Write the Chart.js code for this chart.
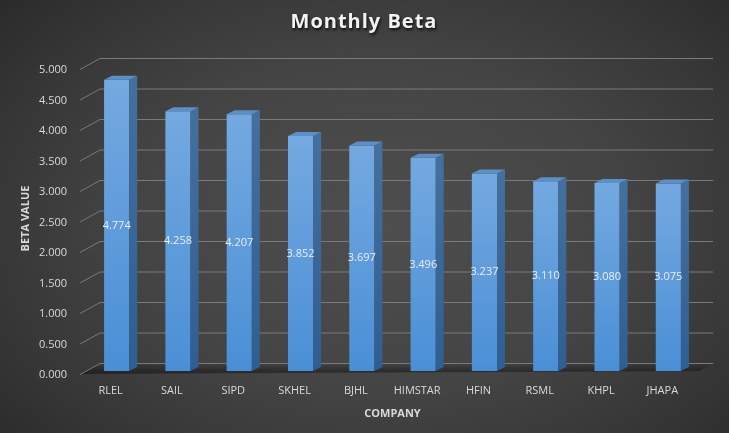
<!DOCTYPE html>
<html>
<head>
<meta charset="utf-8">
<script src="https://cdn.jsdelivr.net/npm/chart.js@4.4.1/dist/chart.umd.min.js"></script>
<style>
  html, body { margin: 0; padding: 0; }
  body { width: 729px; height: 433px; overflow: hidden; }
  .wrap {
    position: relative; width: 729px; height: 433px;
    background: radial-gradient(ellipse 75% 85% at 52% 52%, #4e4e4e 0%, #444 45%, #353535 75%, #262626 100%);
  }
</style>
</head>
<body>
<div class="wrap"><canvas id="betaChart" width="729" height="433"></canvas></div>
<script>
/* Monthly Beta - 3D style column chart */
const companies = ['RLEL', 'SAIL', 'SIPD', 'SKHEL', 'BJHL', 'HIMSTAR', 'HFIN', 'RSML', 'KHPL', 'JHAPA'];
const betaValues = [4.774, 4.258, 4.207, 3.852, 3.697, 3.496, 3.237, 3.110, 3.080, 3.075];
const yTicks = [0, 0.5, 1, 1.5, 2, 2.5, 3, 3.5, 4, 4.5, 5];

const TEXT = '#d9d9d9';
const GRID = '#7a7a7a';
const FONT = "'Open Sans', 'Liberation Sans', sans-serif";

// depth offsets (px) relative to the bar front plane
const FRONT = { dx: -6, dy: 3 };
const BACK = { dx: 14, dy: -8 };
const BAR_DEPTH = { dx: 8, dy: -4 };

const gridPlugin = {
  id: 'grid3d',
  beforeDatasetsDraw(chart) {
    const { ctx, chartArea: a, scales: { y } } = chart;
    ctx.save();
    // floor shadow
    const base = y.getPixelForValue(0);
    const fg = ctx.createLinearGradient(0, base + BACK.dy, 0, base);
    fg.addColorStop(0, 'rgba(0,0,0,0)');
    fg.addColorStop(1, 'rgba(0,0,0,0.35)');
    ctx.fillStyle = fg;
    ctx.beginPath();
    ctx.moveTo(a.left + BACK.dx, base + BACK.dy);
    ctx.lineTo(a.right + BACK.dx, base + BACK.dy);
    ctx.lineTo(a.right, base);
    ctx.lineTo(a.left + FRONT.dx, base + FRONT.dy);
    ctx.closePath();
    ctx.fill();

    ctx.strokeStyle = GRID;
    ctx.lineWidth = 1;
    yTicks.forEach(v => {
      const py = y.getPixelForValue(v);
      ctx.beginPath();
      ctx.moveTo(a.left + FRONT.dx, py + FRONT.dy + 0.5);
      ctx.lineTo(a.left + BACK.dx, py + BACK.dy + 0.5);
      ctx.lineTo(a.right + BACK.dx, py + BACK.dy + 0.5);
      ctx.stroke();
    });
    ctx.restore();
  },
  afterDatasetsDraw(chart) {
    const { ctx } = chart;
    const meta = chart.getDatasetMeta(0);
    ctx.save();
    meta.data.forEach((bar, i) => {
      const { x, y, base, width } = bar.getProps(['x', 'y', 'base', 'width'], true);
      const l = x - width / 2, r = x + width / 2;
      const { dx, dy } = BAR_DEPTH;
      // side face
      const sg = ctx.createLinearGradient(0, y, 0, base);
      sg.addColorStop(0, '#44709f');
      sg.addColorStop(1, '#2f5e92');
      ctx.fillStyle = sg;
      ctx.beginPath();
      ctx.moveTo(r, y);
      ctx.lineTo(r + dx, y + dy);
      ctx.lineTo(r + dx, base + dy);
      ctx.lineTo(r, base);
      ctx.closePath();
      ctx.fill();
      // top face
      ctx.fillStyle = '#5d8fc6';
      ctx.beginPath();
      ctx.moveTo(l, y);
      ctx.lineTo(l + dx, y + dy);
      ctx.lineTo(r + dx, y + dy);
      ctx.lineTo(r, y);
      ctx.closePath();
      ctx.fill();
      // value label
      ctx.fillStyle = '#ececec';
      ctx.font = '11px ' + FONT;
      ctx.textAlign = 'center';
      ctx.textBaseline = 'middle';
      ctx.fillText(betaValues[i].toFixed(3), x, (y + base) / 2);
    });
    ctx.restore();
  }
};

const titlePlugin = {
  id: 'shadowTitle',
  afterDraw(chart) {
    const { ctx } = chart;
    ctx.save();
    ctx.font = 'bold 20px ' + FONT;
    ctx.textAlign = 'center';
    ctx.textBaseline = 'middle';
    ctx.shadowColor = 'rgba(0,0,0,0.8)';
    ctx.shadowBlur = 3;
    ctx.shadowOffsetX = 1;
    ctx.shadowOffsetY = 2;
    ctx.fillStyle = '#f2f2f2';
    if ('letterSpacing' in ctx) ctx.letterSpacing = '1px';
    ctx.fillText('Monthly Beta', 364, 22);
    ctx.restore();
  }
};

new Chart(document.getElementById('betaChart'), {
  type: 'bar',
  data: {
    labels: companies,
    datasets: [{
      label: 'Beta',
      data: betaValues,
      backgroundColor: c => {
        const ya = c.chart.scales.y;
        if (!ya || c.type !== 'data') return '#5b9bd5';
        const top = ya.getPixelForValue(c.raw), bot = ya.getPixelForValue(0);
        if (!isFinite(top) || !isFinite(bot) || top === bot) return '#5b9bd5';
        const g = c.chart.ctx.createLinearGradient(0, top, 0, bot);
        g.addColorStop(0, '#74a9e0');
        g.addColorStop(1, '#4a8fd6');
        return g;
      },
      borderWidth: 0,
      categoryPercentage: 1,
      barPercentage: 0.41,
    }],
  },
  options: {
    responsive: false,
    animation: false,
    layout: { padding: { top: 66, right: 30, left: 0, bottom: 0 } },
    plugins: {
      legend: { display: false },
      tooltip: { enabled: false },
      title: { display: false },
    },
    scales: {
      x: {
        grid: { display: false, drawTicks: false },
        border: { display: false },
        ticks: { color: TEXT, font: { family: FONT, size: 11 }, padding: 13, labelOffset: -6, maxRotation: 0 },
        title: { display: true, text: 'COMPANY', color: TEXT, font: { family: FONT, size: 11, weight: 'bold' }, padding: { top: 4, bottom: 13 } },
        afterFit: s => { s.height = 62; },
      },
      y: {
        min: 0,
        max: 5,
        grid: { display: false, drawTicks: false },
        border: { display: false },
        ticks: {
          stepSize: 0.5,
          color: TEXT,
          font: { family: FONT, size: 11 },
          padding: 19,
          labelOffset: 4,
          callback: v => Number(v).toFixed(3),
        },
        title: { display: true, text: 'BETA VALUE', color: TEXT, font: { family: FONT, size: 11, weight: 'bold' }, padding: { top: 19, bottom: 0 } },
        afterFit: s => { s.width = 86; },
      },
    },
  },
  plugins: [gridPlugin, titlePlugin],
});
</script>
</body>
</html>
